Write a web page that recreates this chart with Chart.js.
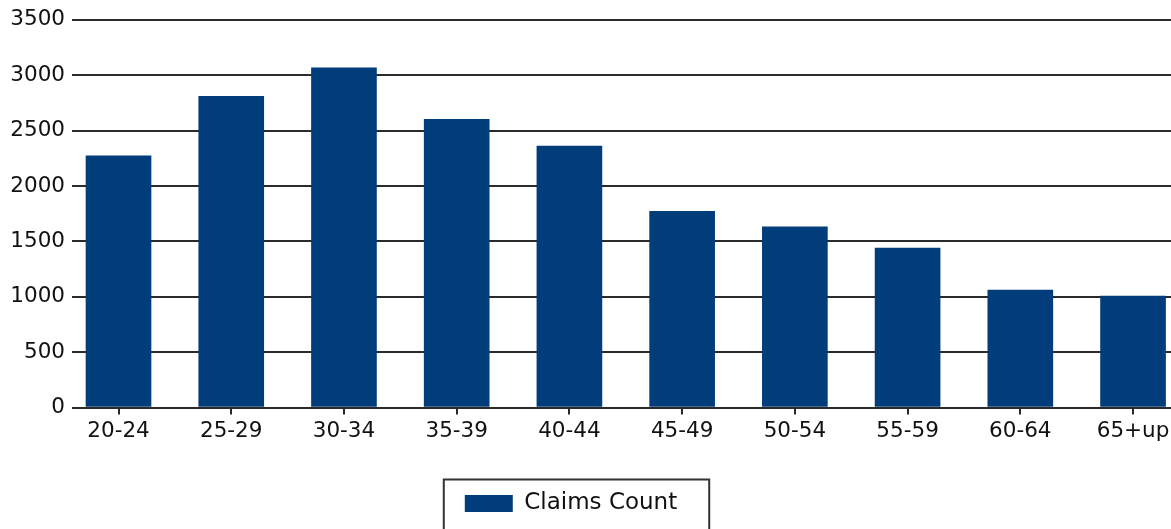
<!DOCTYPE html>
<html>
<head>
<meta charset="utf-8">
<script src="https://cdn.jsdelivr.net/npm/chart.js@4/dist/chart.umd.min.js"></script>
<style>
  html, body { margin: 0; padding: 0; background: #fff; overflow: hidden; }
  #wrap { width: 1171px; height: 529px; overflow: hidden; }
</style>
</head>
<body>
<div id="wrap"><canvas id="claimsChart" width="1200" height="535"></canvas></div>
<script>
const ageGroups = ['20-24', '25-29', '30-34', '35-39', '40-44', '45-49', '50-54', '55-59', '60-64', '65+up'];
const claimsCount = [2272, 2809, 3068, 2603, 2361, 1771, 1631, 1440, 1061, 1007];
const yTicks = [0, 500, 1000, 1500, 2000, 2500, 3000, 3500];
const seriesName = 'Claims Count';

const barColor = '#023d7b';
const lineColor = '#2a2a2a';
const fontFamily = '"DejaVu Sans", Verdana, sans-serif';

// box drawn around the legend, like the original report
const legendFrame = {
    id: 'legendFrame',
    afterLayout(chart) {
        const lg = chart.legend;
        lg.left = 0;
        lg.right = 1142;
        lg.width = 1142;
    },
    afterDraw(chart) {
        const hb = chart.legend.legendHitBoxes[0];
        if (!hb) return;
        const ctx = chart.ctx;
        const cy = hb.top + hb.height / 2;
        ctx.save();
        ctx.strokeStyle = '#333';
        ctx.lineWidth = 2;
        ctx.strokeRect(hb.left - 21, cy - 24, hb.width + 53, 60);
        ctx.restore();
    }
};

const ctx = document.getElementById('claimsChart');
const chart = new Chart(ctx, {
    type: 'bar',
    data: {
        datasets: [{
            label: seriesName,
            data: claimsCount.map((v, i) => ({ x: i, y: v })),
            backgroundColor: barColor,
            borderWidth: 0,
            barThickness: 65
        }]
    },
    options: {
        responsive: false,
        animation: false,
        layout: { padding: { top: 13, right: 0, bottom: 10, left: 0 } },
        scales: {
            x: {
                type: 'linear',
                offset: false,
                min: -0.3416,
                max: 9.594,
                afterBuildTicks: s => { s.ticks = ageGroups.map((c, i) => ({ value: i })); },
                afterFit: s => { s.height = 70; },
                ticks: {
                    callback: v => ageGroups[v],
                    color: '#111',
                    font: { family: fontFamily, size: 21.5 },
                    padding: 4,
                    maxRotation: 0,
                    autoSkip: false
                },
                grid: { offset: false, drawOnChartArea: false, drawTicks: true, tickLength: 7, color: lineColor, lineWidth: 2 },
                border: { display: true, color: lineColor, width: 2 }
            },
            y: {
                min: 0,
                max: 3500,
                afterBuildTicks: s => { s.ticks = yTicks.map(v => ({ value: v })); },
                afterFit: s => { s.width = 80; },
                ticks: {
                    callback: v => String(v),
                    color: '#111',
                    font: { family: fontFamily, size: 21.5 },
                    padding: 7
                },
                grid: { color: lineColor, lineWidth: 2, tickLength: 8 },
                border: { display: false }
            }
        },
        plugins: {
            legend: {
                position: 'bottom',
                labels: {
                    color: '#111',
                    font: { family: fontFamily, size: 23 },
                    boxWidth: 48,
                    boxHeight: 17,
                    padding: 14.5
                }
            },
            tooltip: { enabled: false }
        }
    },
    plugins: [legendFrame]
});
</script>
</body>
</html>
